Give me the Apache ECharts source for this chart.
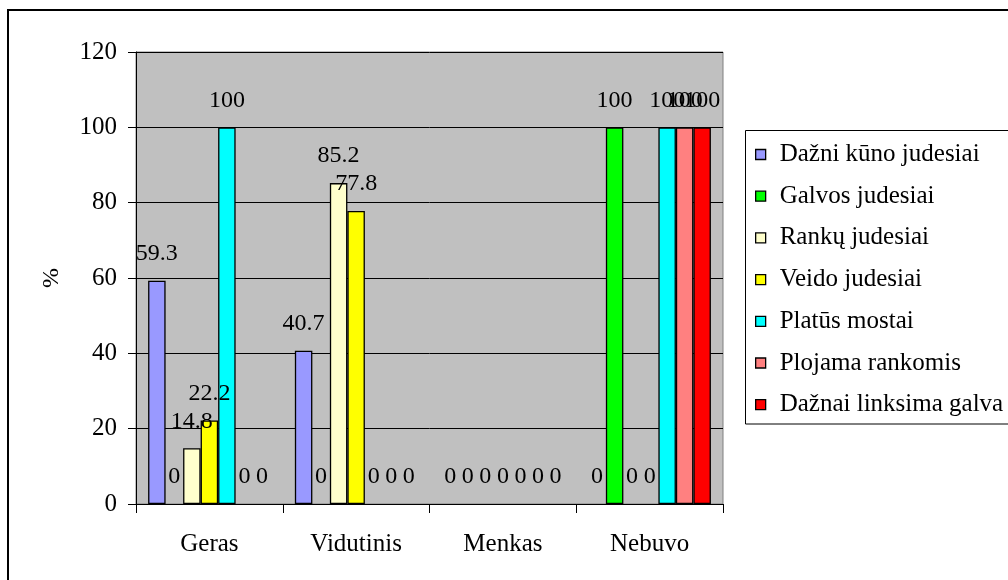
<!DOCTYPE html>
<html>
<head>
<meta charset="utf-8">
<script src="https://cdn.jsdelivr.net/npm/echarts@6/dist/echarts.min.js"></script>
<style>
  html, body { margin: 0; padding: 0; background: #fff; }
  #chart { width: 1008px; height: 580px; }
</style>
</head>
<body>
<div id="chart"></div>
<script>
// Vertinimo kategorijos ir judesių rodikliai (%)
const categories = ['Geras', 'Vidutinis', 'Menkas', 'Nebuvo'];
const seriesNames = [
  'Dažni kūno judesiai',
  'Galvos judesiai',
  'Rankų judesiai',
  'Veido judesiai',
  'Platūs mostai',
  'Plojama rankomis',
  'Dažnai linksima galva'
];
const dazniKunoJudesiai   = [59.3, 40.7, 0, 0];
const galvosJudesiai      = [0, 0, 0, 100];
const rankuJudesiai       = [14.8, 85.2, 0, 0];
const veidoJudesiai       = [22.2, 77.8, 0, 0];
const placiaiMostai       = [100, 0, 0, 100];
const plojamaRankomis     = [0, 0, 0, 100];
const daznaiLinksimaGalva = [0, 0, 0, 100];
const yTicks = [0, 20, 40, 60, 80, 100, 120];

const seriesValues = [
  dazniKunoJudesiai, galvosJudesiai, rankuJudesiai, veidoJudesiai,
  placiaiMostai, plojamaRankomis, daznaiLinksimaGalva
];
const colors = ['#9999FF', '#00FF00', '#FFFFCC', '#FFFF00', '#00FFFF', '#FF8080', '#FF0000'];
const FONT = 'Liberation Serif';

const chart = echarts.init(document.getElementById('chart'), null, { renderer: 'canvas' });

chart.setOption({
  backgroundColor: '#ffffff',
  animation: false,
  color: colors,
  textStyle: { fontFamily: FONT, color: '#000' },
  grid: {
    left: 136, right: 285, top: 52, bottom: 76,
    show: true, backgroundColor: '#C0C0C0',
    borderColor: '#808080', borderWidth: 1,
    containLabel: false
  },
  legend: {
    orient: 'vertical',
    left: 755, top: 142,
    padding: 0,
    itemWidth: 10, itemHeight: 10,
    itemGap: 16.7,
    icon: 'rect',
    itemStyle: { borderColor: '#000', borderWidth: 1.3 },
    textStyle: { fontFamily: FONT, fontSize: 25, color: '#000', padding: [0, 0, 0, 9] },
    data: seriesNames
  },
  xAxis: {
    type: 'category',
    data: categories,
    boundaryGap: true,
    axisLine: { lineStyle: { color: '#000', width: 1 } },
    axisTick: { show: true, length: 9, lineStyle: { color: '#000' } },
    axisLabel: { fontFamily: FONT, fontSize: 25, color: '#000', margin: 28 },
    splitLine: { show: false }
  },
  yAxis: {
    type: 'value',
    min: yTicks[0], max: yTicks[yTicks.length - 1], interval: 20,
    name: '%',
    nameLocation: 'middle',
    nameRotate: 90,
    nameGap: 72,
    nameTextStyle: { fontFamily: FONT, fontSize: 24, color: '#000' },
    axisLine: { show: true, lineStyle: { color: '#000', width: 1 } },
    axisTick: { show: true, length: 8, lineStyle: { color: '#000' } },
    axisLabel: { fontFamily: FONT, fontSize: 25, color: '#000', margin: 19 },
    splitLine: { show: true, lineStyle: { color: '#000', width: 1 } }
  },
  series: seriesNames.map((name, i) => ({
    name,
    type: 'bar',
    // zero-height bars carry no outline, only their value label
    data: seriesValues[i].map(v => v === 0 ? { value: v, itemStyle: { borderWidth: 0 } } : v),
    barGap: '0%',
    barCategoryGap: '16.5%',
    itemStyle: { color: colors[i], borderColor: '#000', borderWidth: 1.3 },
    label: {
      show: true,
      position: 'top',
      distance: 15,
      fontFamily: FONT,
      fontSize: 24,
      color: '#000'
    },
    labelLayout: { hideOverlap: false }
  })),
  graphic: [
    {
      type: 'rect',
      silent: true,
      shape: { x: 8, y: 10, width: 1100, height: 1000 },
      style: { fill: null, stroke: '#000', lineWidth: 2 }
    },
    {
      type: 'rect',
      silent: true,
      shape: { x: 745.5, y: 130.5, width: 400, height: 293.5 },
      style: { fill: null, stroke: '#000', lineWidth: 1 }
    }
  ]
});
</script>
</body>
</html>
